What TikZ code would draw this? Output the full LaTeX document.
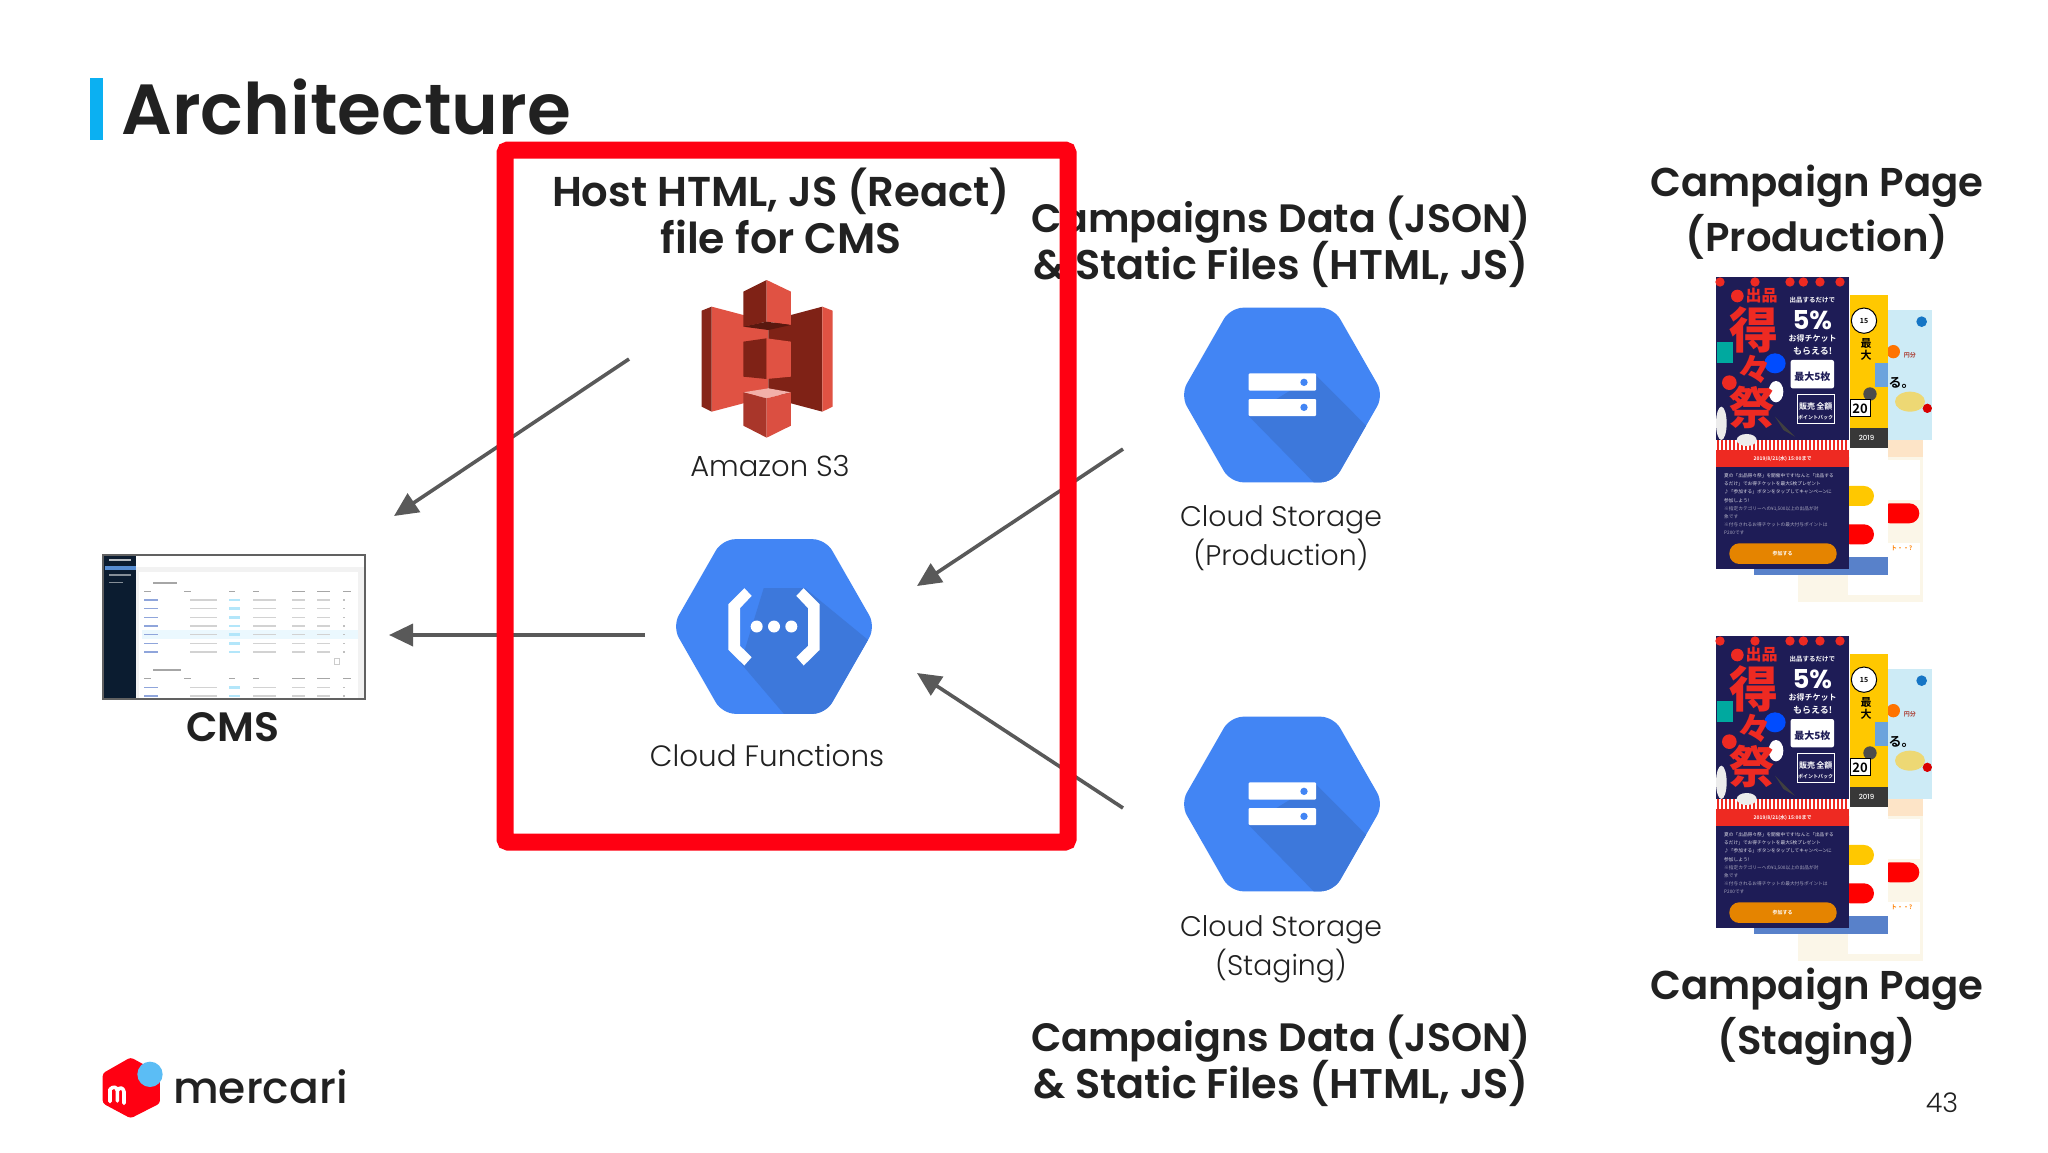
\documentclass[tikz,border=0pt]{standalone}
\usepackage{fontspec}
\setmainfont{Poppins}
\newfontfamily\semib{Poppins SemiBold}
\newfontfamily\lightf{Poppins Light}
\newfontfamily\medf{Poppins Medium}
\newfontfamily\cjk{Noto Sans CJK JP}
\newfontfamily\cjkb{Noto Sans CJK JP Bold}
\newfontfamily\cjkh{Noto Sans CJK JP Black}
\usetikzlibrary{arrows.meta}
\definecolor{ink}{HTML}{212121}
\definecolor{barblue}{HTML}{0BB0F2}
\definecolor{boxred}{HTML}{FF0012}
\definecolor{arrowgray}{HTML}{595959}
\definecolor{gblue}{HTML}{4285F4}
\definecolor{gshadow}{HTML}{3D78DB}
\definecolor{awslight}{HTML}{E05243}
\definecolor{awsdark}{HTML}{7F2216}
\definecolor{awsmid}{HTML}{A9362A}
\definecolor{awspale}{HTML}{F2B0A9}
\definecolor{navy}{HTML}{1E1C56}
\definecolor{cred}{HTML}{EE2A22}
\definecolor{cyellow}{HTML}{FFC800}
\definecolor{ccream}{HTML}{FBF6E8}
\definecolor{csky}{HTML}{CDEBF6}
\definecolor{cmsdark}{HTML}{0B1C30}
\definecolor{logosky}{HTML}{5BBDF5}
\tikzset{
  head/.style={font=\semib\fontsize{#1}{#1}\selectfont,text=ink,anchor=base,inner sep=0pt},
  lab/.style={font=\lightf\fontsize{#1}{#1}\selectfont,text=ink,anchor=base,inner sep=0pt},
  flow/.style={draw=arrowgray,line width=3.6pt,-{Triangle[length=24pt,width=22pt]},shorten >=0pt},
  tiny/.style={inner sep=0pt,anchor=center,text=white},
}
\newcommand{\gcphexbg}{%
  \begin{scope}
  \path[clip,rounded corners=13pt] (-305,0)--(-155,-262)--(155,-262)--(305,0)--(155,262)--(-155,262)--cycle;
  \fill[gblue] (-320,-280) rectangle (320,280);
}
\newcommand{\campaignstack}[1]{%
  % rear page
  \fill[ccream] (355,590) rectangle (730,1025);
  \fill[csky] (625,150) rectangle (757,540);
  \fill[white] (625,600) rectangle (720,720);
  \fill[ccream!70!orange!60!white] (625,540) rectangle (730,590);
  \fill[white] (505,850) rectangle (720,1005);
  \fill[red,rounded corners=10pt] (600,730) rectangle (718,790);
  \fill[orange!90!red] (640,275) circle (20);
  \fill[red!85!black] (742,445) circle (14);
  \fill[cyan!55!blue] (725,185) circle (16);
  \fill[yellow!55!brown!65!white] (690,425) ellipse (45 and 30);
  \node[inner sep=0pt,text=awsmid] (#1r) at (690,285) {\cjkb\fontsize{6}{6}\selectfont 円分};
  \node[inner sep=0pt,text=black] (#1s) at (665,368) {\cjkb\fontsize{13}{13}\selectfont る。};
  \node[inner sep=0pt,text=orange] (#1t) at (665,865) {\cjkb\fontsize{6}{6}\selectfont ト・・?};
  % middle page
  \fill[cyellow] (509,105) rectangle (623,505);
  \fill[black!78] (509,505) rectangle (623,563);
  \fill[white] (509,563) rectangle (623,890);
  \fill[cyellow,rounded corners=10pt] (480,678) rectangle (582,738);
  \fill[red,rounded corners=10pt] (480,793) rectangle (582,853);
  \fill[cyan!40!blue!70!white] (222,890) rectangle (623,945);
  \fill[white,draw=black,line width=1pt] (552,182) circle (38);
  \fill[cyan!60!blue!60!white] (585,310) rectangle (625,380);
  \fill[black!70] (570,402) circle (20);
  \fill[white,draw=black,line width=1pt] (510,420) rectangle (572,470);
  \node[inner sep=0pt,text=black] (#1u) at (552,182) {\cjkb\fontsize{7}{7}\selectfont 15};
  \node[inner sep=0pt,text=black] (#1v) at (558,250) {\cjkb\fontsize{11}{11}\selectfont 最};
  \node[inner sep=0pt,text=black] (#1y) at (558,287) {\cjkb\fontsize{11}{11}\selectfont 大};
  \node[inner sep=0pt,text=black] (#1w) at (540,446) {\cjkb\fontsize{13}{13}\selectfont 20};
  \node[inner sep=0pt,text=white] (#1x) at (560,535) {\medf\fontsize{7}{7}\selectfont 2019};
  % front page
  \fill[navy] (108,52) rectangle (508,540);
  \foreach \sx in {120,225,330,370,420,480}{\fill[cred] (\sx,66) circle (14);}
  \foreach \sx in {110,122,...,500}{\fill[cred] (\sx,540) rectangle +(6,30);\fill[white] (\sx+6,540) rectangle +(6,30);}
  \fill[cred] (108,570) rectangle (508,622);
  \fill[navy] (108,622) rectangle (508,928);
  \fill[cred] (172,108) circle (19);
  \fill[white,rounded corners=2pt] (332,300) rectangle (462,385);
  \draw[white,line width=1pt] (352,405) rectangle (462,492);
  \fill[white!85!gray] (200,540) ellipse (30 and 18);
  \fill[white!85!gray] (124,490) ellipse (16 and 50);
  \fill[blue!70!cyan] (285,310) ellipse (32 and 30);
  \fill[cred] (148,368) circle (22);
  \fill[white] (288,395) ellipse (22 and 32);
  \fill[black!75] (310,510) -- (285,470) -- (345,530) -- cycle;
  \fill[cyan!50!green] (110,245) rectangle (160,310);
  \node[inner sep=0pt,text=cred] (#1a) at (245,108) {\cjkh\fontsize{16}{16}\selectfont 出品};
  \node[inner sep=0pt,text=cred] (#1b) at (222,210) {\cjkh\fontsize{49}{49}\selectfont 得};
  \node[inner sep=0pt,text=cred] (#1c) at (222,328) {\cjkh\fontsize{34}{34}\selectfont 々};
  \node[inner sep=0pt,text=cred] (#1d) at (215,443) {\cjkh\fontsize{45}{45}\selectfont 祭};
  \node[tiny] (#1e) at (397,120) {\cjkb\fontsize{6.5}{6.5}\selectfont 出品するだけで};
  \node[tiny] (#1f) at (397,180) {\fontsize{26}{26}\selectfont\bfseries 5\%};
  \node[tiny] (#1g) at (398,235) {\cjkb\fontsize{8}{8}\selectfont お得チケット};
  \node[tiny] (#1h) at (398,275) {\cjkb\fontsize{9}{9}\selectfont もらえる!};
  \node[tiny,text=navy] (#1i) at (397,350) {\cjkh\fontsize{10}{10}\selectfont 最大5枚};
  \node[tiny] (#1j) at (407,440) {\cjkb\fontsize{8}{8}\selectfont 販売\,全額};
  \node[tiny] (#1k) at (407,472) {\cjkb\fontsize{5}{5}\selectfont ポイントバック};
  \node[tiny] (#1l) at (308,596) {\cjkb\fontsize{5}{5}\selectfont 2019/8/21(水) 15:00まで};
  \node[tiny,align=left,anchor=north west,text=white!85!navy,font=\cjk\fontsize{4.7}{8.2}\selectfont] (#1m) at (132,640)
     {夏の「出品得々祭」を開催中です!なんと「出品する\\るだけ」でお得チケットを最大5枚プレゼント\\♪「参加する」ボタンをタップしてキャンペーンに\\参加しよう!\\ \textcolor{white!60!navy}{※指定カテゴリーへの¥1,500以上の出品が対}\\ \textcolor{white!60!navy}{象です}\\ \textcolor{white!60!navy}{※付与されるお得チケットの最大付与ポイントは}\\ \textcolor{white!60!navy}{P200です}};
  \fill[orange!85!yellow!90!black,rounded corners=10pt] (148,850) rectangle (470,912);
  \node[tiny] (#1n) at (308,880) {\cjkb\fontsize{5}{5}\selectfont 参加する};
}
\begin{document}
\begin{tikzpicture}[x=1pt,y=-1pt]
\useasboundingbox (0,0) rectangle (2048,1152);
\fill[white] (0,0) rectangle (2048,1152);
% title
\fill[barblue] (90,78) rectangle (103,140);
\node[font=\semib\fontsize{71}{71}\selectfont,text=ink,anchor=base west,inner sep=0pt] (title) at (121,134) {Architecture};
% column headings
\node[head=41.7] (hosta) at (781,206) {Host HTML, JS (React)};
\node[head=42.6] (hostb) at (781,253) {file for CMS};
\node[head=39.6] (dataa) at (1281,232) {Campaigns Data (JSON)};
\node[head=41.4] (datab) at (1281,279) {\& Static Files (HTML, JS)};
\node[head=39.6] (datac) at (1281,1051) {Campaigns Data (JSON)};
\node[head=41.4] (datad) at (1281,1098) {\& Static Files (HTML, JS)};
\node[head=40.2] (pagea) at (1817,196) {Campaign Page};
\node[head=40.2] (pageb) at (1817,251) {(Production)};
\node[head=40.2] (pagec) at (1817,999) {Campaign Page};
\node[head=40.2] (paged) at (1817,1054) {(Staging)};
% S3 icon
\begin{scope}[shift={(660,260)},scale=.3333]
  \fill[awslight] (155,140)--(250,165)--(325,200)--(325,385)--(250,430)--(155,455)--cycle;
  \fill[awsdark] (393,165)--(487,140)--(487,455)--(393,430)--(325,385)--(325,200)--cycle;
  \fill[awsdark!80!awsmid] (125,152)--(155,140)--(155,455)--(125,440)--cycle;
  \fill[awslight] (487,140)--(518,152)--(518,440)--(487,455)--cycle;
  \fill[awsdark] (250,95)--(320,60)--(320,185)--(250,200)--cycle;
  \fill[awslight] (320,60)--(393,95)--(393,195)--(320,185)--cycle;
  \fill[awsdark!70!black] (250,200)--(320,185)--(393,195)--(325,210)--cycle;
  \fill[awsdark] (250,245)--(320,235)--(320,357)--(250,350)--cycle;
  \fill[awslight] (320,235)--(393,245)--(393,350)--(320,357)--cycle;
  \fill[awspale] (250,397)--(325,385)--(393,397)--(320,415)--cycle;
  \fill[awsmid] (250,397)--(320,415)--(320,533)--(250,497)--cycle;
  \fill[awslight!90!awsmid] (320,415)--(393,397)--(393,497)--(320,533)--cycle;
\end{scope}
\node[lab=29] (s3lab) at (770,476) {Amazon S3};
% Cloud Functions
\begin{scope}[shift={(774,626.5)},scale=.3333]
  \gcphexbg
  \fill[gshadow] (-31,-115)--(93,-115)--(300,55)--(300,300)--(45,280)--(-100,110)--cycle;
  \end{scope}
  \fill[white] (-89,-115)--(-67,-92)--(-102,-55)--(-102,58)--(-67,92)--(-89,117)--(-137,70)--(-137,-67)--cycle;
  \fill[white] (89,-115)--(67,-92)--(102,-55)--(102,58)--(67,92)--(89,117)--(137,70)--(137,-67)--cycle;
  \foreach \dx in {-52,0,52}{\fill[white] (\dx,0) circle (18);}
\end{scope}
\node[lab=29.4] (fnlab) at (767,766) {Cloud Functions};
% Cloud Storage production + staging
\foreach \cy/\nm in {395/a,804/b}{
\begin{scope}[shift={(1282,\cy)},scale=.3333]
  \gcphexbg
  \fill[gshadow] (101,-60)--(330,170)--(330,300)--(95,262)--(-100,63)--cycle;
  \end{scope}
  \fill[white,rounded corners=1pt] (-100,-65) rectangle (102,-13);
  \fill[white,rounded corners=1pt] (-100,12) rectangle (102,63);
  \fill[gblue] (66,-38) circle (11);
  \fill[gblue] (66,37) circle (11);
\end{scope}
}
\node[lab=28.3] (proda) at (1281,526) {Cloud Storage};
\node[lab=28.3] (prodb) at (1281,565) {(Production)};
\node[lab=28.3] (staga) at (1281,936) {Cloud Storage};
\node[lab=28.3] (stagb) at (1281,975) {(Staging)};
% CMS thumbnail
\begin{scope}[shift={(90,540)},scale=.3333]
  \fill[white] (40,45) rectangle (825,478);
  \fill[cmsdark] (40,45) rectangle (137,478);
  \fill[gray!10] (137,80) rectangle (825,478);
  \fill[white] (148,95) rectangle (805,478);
  \fill[cyan!8] (155,270) rectangle (805,297);
  \fill[cyan!50!blue!70] (44,78) rectangle (137,90);
  \fill[white!70!cmsdark] (58,58) rectangle (122,64);
  \fill[white!50!cmsdark] (58,102) rectangle (122,107);
  \fill[white!50!cmsdark] (58,125) rectangle (100,130);
  \fill[gray!70] (188,127) rectangle (262,132);
  \fill[gray!70] (188,388) rectangle (272,393);
  \foreach \ry in {154,416}{\foreach \rx/\rw in {162/20,282/20,416/20,488/20,606/40,681/40,760/22}{\fill[gray!70] (\rx,\ry-2) rectangle +(\rw,4);}}
  \foreach \ry in {180,206,232,258,284,310,336,442,468}{
    \fill[cyan!40!blue!45] (162,\ry-2) rectangle +(42,4);
    \fill[gray!35] (300,\ry-2) rectangle +(80,4);
    \fill[cyan!30] (416,\ry-4) rectangle +(34,8);
    \fill[gray!35] (488,\ry-2) rectangle +(70,4);
    \fill[gray!35] (606,\ry-2) rectangle +(40,4);
    \fill[gray!35] (681,\ry-2) rectangle +(40,4);
    \fill[gray!50] (760,\ry-2) rectangle +(6,4);
  }
  \draw[gray!40,line width=.5pt] (733,355) rectangle (749,372);
  \draw[black!62,line width=2pt] (40,45) rectangle (825,478);
\end{scope}
\node[head=41] (cms) at (233,741) {CMS};
% campaign pages
\begin{scope}[shift={(1680,260)},scale=.3333]
  \campaignstack{p}
\end{scope}
\begin{scope}[shift={(1680,619)},scale=.3333]
  \campaignstack{q}
\end{scope}
% connector ends
\coordinate (a1s) at (629,359);
\coordinate (a1e) at (394,516);
\coordinate (a2s) at (645,635);
\coordinate (a2e) at (389,635);
\coordinate (a3s) at (1123,449);
\coordinate (a3e) at (917,586);
\coordinate (a4s) at (1123,808);
\coordinate (a4e) at (917,673);
\draw[flow] (a1s) -- (a1e);
\draw[flow] (a2s) -- (a2e);
\draw[flow] (a3s) -- (a3e);
\draw[flow] (a4s) -- (a4e);
% highlight box
\draw[boxred,line width=17pt,rounded corners=3pt] (505,150) rectangle (1068,842);
% logo
\begin{scope}[shift={(80,1040)},scale=.3333]
  \fill[boxred,rounded corners=3pt] (152,52)--(240,100)--(240,190)--(152,235)--(68,190)--(68,100)--cycle;
  \fill[logosky] (210,103) circle (38);
  \draw[white,line width=3.6pt,line cap=round,line join=round] (90,185)--(90,148) .. controls (100,138) and (110,140) .. (112,152)--(112,183) (112,152) .. controls (118,140) and (130,142) .. (132,155)--(132,190);
\end{scope}
\node[font=\medf\fontsize{44}{44}\selectfont,text=ink,anchor=base west,inner sep=0pt] (merc) at (173,1103) {mercari};
\node[font=\lightf\fontsize{27}{27}\selectfont,text=ink,anchor=base,inner sep=0pt] (pnum) at (1942,1112) {43};
\end{tikzpicture}
\end{document}
